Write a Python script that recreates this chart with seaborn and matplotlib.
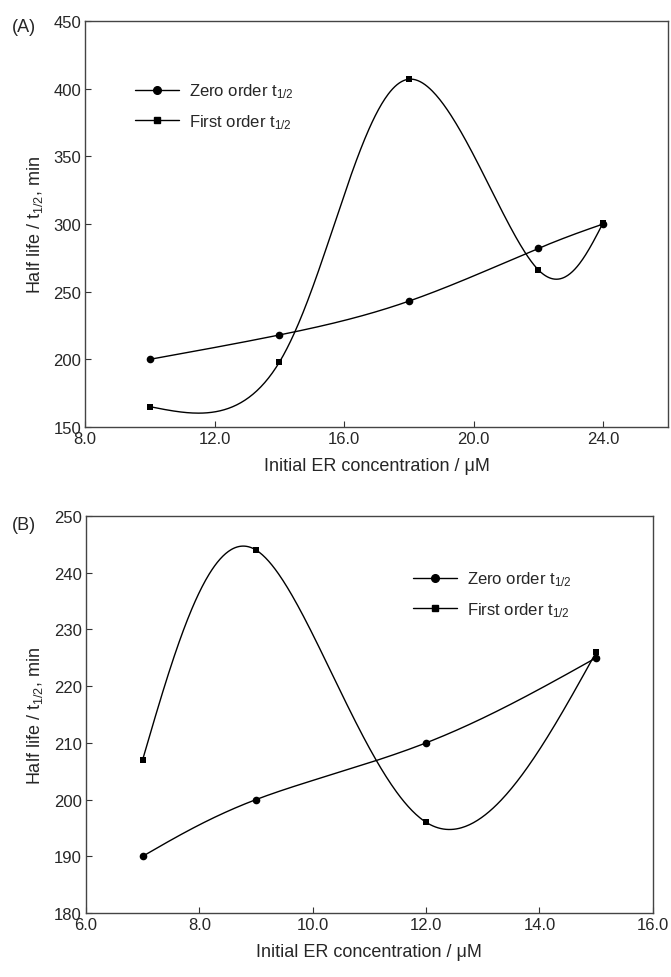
import numpy as np
import matplotlib
matplotlib.use("Agg")
import matplotlib.pyplot as plt
import seaborn as sns
from matplotlib.lines import Line2D

# panel A data
conc_a = [10.0, 14.0, 18.0, 22.0, 24.0]
zero_a = [200, 218, 243, 282, 300]
first_a = [165, 198, 407, 266, 301]

# panel B data
conc_b = [7.0, 9.0, 12.0, 15.0]
zero_b = [190, 200, 210, 225]
first_b = [207, 244, 196, 226]


def natural_coef(t, v):
    k = len(t)
    h = np.diff(t)
    A = np.zeros((k, k))
    b = np.zeros(k)
    A[0, 0] = A[-1, -1] = 1
    for i in range(1, k - 1):
        A[i, i - 1] = h[i - 1]
        A[i, i] = 2 * (h[i - 1] + h[i])
        A[i, i + 1] = h[i]
        b[i] = 6 * ((v[i + 1] - v[i]) / h[i] - (v[i] - v[i - 1]) / h[i - 1])
    return np.linalg.solve(A, b)


def eval_spline(t, v, M, ts):
    idx = np.clip(np.searchsorted(t, ts) - 1, 0, len(t) - 2)
    t0, t1 = t[idx], t[idx + 1]
    hh = t1 - t0
    a = t1 - ts
    c = ts - t0
    return (M[idx] * a**3 + M[idx + 1] * c**3) / (6 * hh) \
        + (v[idx] / hh - M[idx] * hh / 6) * a \
        + (v[idx + 1] / hh - M[idx + 1] * hh / 6) * c


def smooth_line(x, y, sx, sy, n=400, alpha=0.3):
    # parametric spline through the points, only for the connecting line
    x = np.asarray(x, float)
    y = np.asarray(y, float)
    px, py = x * sx, y * sy
    seg = np.hypot(np.diff(px), np.diff(py)) ** alpha
    t = np.concatenate([[0], np.cumsum(seg)])
    ts = np.linspace(0, t[-1], n)
    xs = eval_spline(t, x, natural_coef(t, x), ts)
    ys = eval_spline(t, y, natural_coef(t, y), ts)
    return xs, ys


sns.set_theme(style="ticks")
plt.rcParams['font.family'] = ['Liberation Sans', 'DejaVu Sans']
plt.rcParams['mathtext.fontset'] = 'custom'
plt.rcParams['mathtext.rm'] = 'Liberation Sans'
plt.rcParams['mathtext.it'] = 'Liberation Sans'
plt.rcParams['xtick.direction'] = 'in'
plt.rcParams['ytick.direction'] = 'in'

fig = plt.figure(figsize=(6.71, 9.78), dpi=100)
ax_a = fig.add_axes([0.127, 0.5624, 0.8685, 0.4151])
ax_b = fig.add_axes([0.128, 0.0654, 0.845, 0.406])

panels = [
    (ax_a, conc_a, zero_a, first_a, (8, 26), np.arange(8, 25, 4), (150, 450), np.arange(150, 451, 50), (0.06, 0.888)),
    (ax_b, conc_b, zero_b, first_b, (6, 16), np.arange(6, 17, 2), (180, 250), np.arange(180, 251, 10), (0.551, 0.903)),
]

for ax, xv, z, f, xlim, xt, ylim, yt, leg_pos in panels:
    bb = ax.get_position()
    sx = bb.width * 671 / (xlim[1] - xlim[0])
    sy = bb.height * 978 / (ylim[1] - ylim[0])
    for yv, mk, ms in [(z, 'o', 5.5), (f, 's', 4.5)]:
        xs, ys = smooth_line(xv, yv, sx, sy)
        sns.lineplot(x=xs, y=ys, ax=ax, color='black', lw=1.0, sort=False)
        sns.scatterplot(x=xv, y=yv, ax=ax, marker=mk, s=ms**2, color='black',
                        edgecolor='black', linewidth=0, zorder=3)
    ax.set_xlim(*xlim)
    ax.set_ylim(*ylim)
    ax.set_xticks(xt)
    ax.set_xticklabels([f"{v:.1f}" for v in xt])
    ax.set_yticks(yt)
    ax.tick_params(axis='both', labelsize=12, length=4, width=0.8, color='#333333',
                   top=False, right=False, pad=3)
    for s in ax.spines.values():
        s.set_color('#444444')
        s.set_linewidth(1.0)
    ax.set_xlabel('Initial ER concentration / μM', fontsize=13, labelpad=8)
    ax.set_ylabel('Half life / t$_{1/2}$, min', fontsize=13, labelpad=6)
    handles = [
        Line2D([], [], color='black', lw=1.0, marker='o', markersize=5.5),
        Line2D([], [], color='black', lw=1.0, marker='s', markersize=4.5),
    ]
    ax.legend(handles, ['Zero order t$_{1/2}$', 'First order t$_{1/2}$'],
              loc='upper left', bbox_to_anchor=leg_pos, frameon=False,
              fontsize=12, handlelength=2.6, handletextpad=0.6, labelspacing=0.7)

fig.text(0.018, 0.972, '(A)', fontsize=13, va='center')
fig.text(0.018, 0.463, '(B)', fontsize=13, va='center')

fig.savefig('out.png', dpi=100)
